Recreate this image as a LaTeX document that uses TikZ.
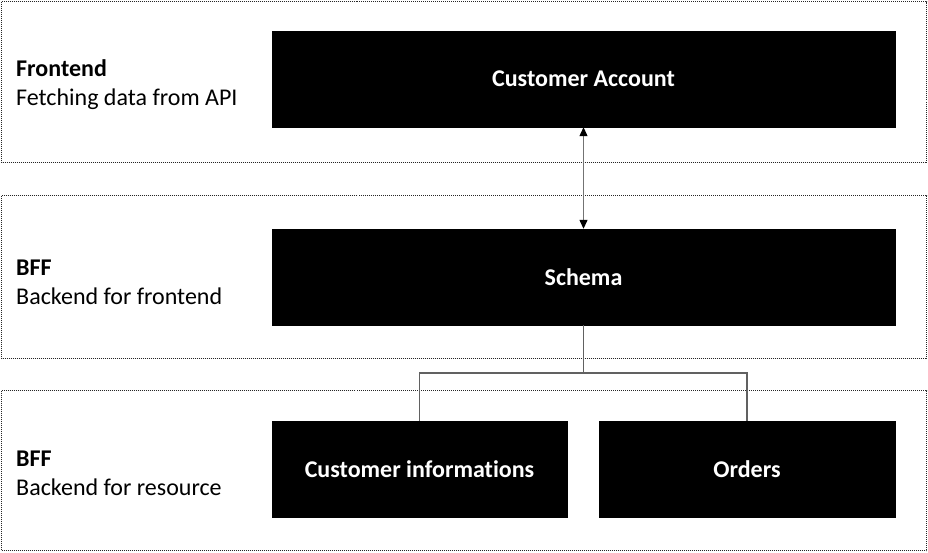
\documentclass[tikz,border=0pt]{standalone}
\usepackage{fontspec}
\setmainfont{Carlito}[Ligatures={NoCommon}]
\usetikzlibrary{arrows.meta}
\begin{document}
\begin{tikzpicture}[x=1pt,y=-1pt,
  band/.style={draw=black!85, line width=0.9pt, dash pattern=on 1pt off 1pt, fill=white},
  blackbox/.style={fill=black, draw=black, text=white, font=\fontsize{24}{28}\selectfont\bfseries, inner sep=0pt},
  lbl/.style={anchor=west, align=left, font=\fontsize{24}{29}\selectfont, inner sep=0pt},
  conn/.style={draw=black!62, line width=1.3pt}]
\useasboundingbox (0,0) rectangle (928,552);
\fill[white] (0,0) rectangle (928,552);
% bands
\path[band] (1.5,1.5) rectangle (926.5,162.5);
\path[band] (1.5,195.5) rectangle (926.5,358.5);
\path[band] (1.5,390.5) rectangle (926.5,550.5);
% labels
\node[lbl] (l1) at (16,85) {\textbf{Frontend}\\Fetching data from API};
\node[lbl] (l2) at (16,282) {\textbf{BFF}\\Backend for frontend};
\node[lbl] (l3) at (16,473) {\textbf{BFF}\\Backend for resource};
% boxes
\node[blackbox, minimum width=623, minimum height=96] (ca) at (583.5,79) {Customer Account};
\node[blackbox, minimum width=623, minimum height=96] (sc) at (583.5,277) {Schema};
\node[blackbox, minimum width=295, minimum height=96] (ci) at (419.5,469) {Customer informations};
\node[blackbox, minimum width=296, minimum height=96] (or) at (747,469) {Orders};
% connectors
\draw[draw=black!55, line width=1.2pt, {Triangle[length=9pt,width=8pt,black]}-{Triangle[length=9pt,width=8pt,black]}] (ca.south) -- (sc.north);
\coordinate (j) at (583.5,373);
\draw[conn] (sc.south) -- (j);
\draw[conn] (ci.north) |- (j) -| (or.north);
\end{tikzpicture}
\end{document}
